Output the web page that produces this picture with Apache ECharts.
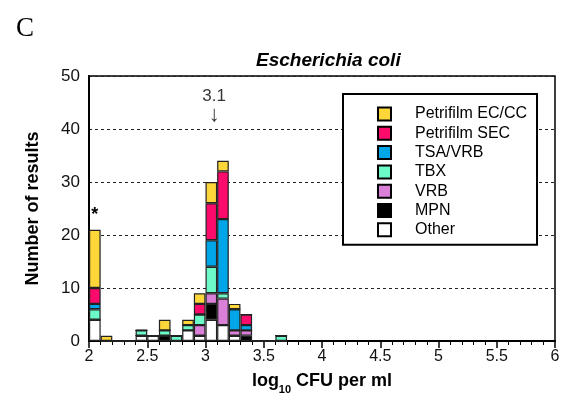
<!DOCTYPE html>
<html>
<head>
<meta charset="utf-8">
<script src="https://cdn.jsdelivr.net/npm/echarts@6/dist/echarts.min.js"></script>
<style>
  html, body { margin: 0; padding: 0; background: #fff; }
  #chart { width: 567px; height: 403px; }
</style>
</head>
<body>
<div id="chart"></div>
<script>
// Histogram bins of width 0.1 log10 CFU per ml (bin start values)
const bins = ['2.0','2.1','2.2','2.3','2.4','2.5','2.6','2.7','2.8','2.9',
              '3.0','3.1','3.2','3.3','3.4','3.5','3.6','3.7','3.8','3.9',
              '4.0','4.1','4.2','4.3','4.4','4.5','4.6','4.7','4.8','4.9',
              '5.0','5.1','5.2','5.3','5.4','5.5','5.6','5.7','5.8','5.9'];

// Number of results per bin, by method (bins 2.0 .. 3.6)
const other     = [4, 0, 0, 0, 1, 1, 0, 0, 2, 1, 4, 3, 1, 0, 0, 0, 0];
const mpn       = [0, 0, 0, 0, 0, 0, 1, 0, 0, 0, 3, 0, 0, 1, 0, 0, 0];
const vrb       = [0, 0, 0, 0, 0, 0, 0, 0, 0, 2, 2, 5, 1, 1, 0, 0, 0];
const tbx       = [2, 0, 0, 0, 1, 0, 1, 1, 1, 2, 5, 1, 0, 0, 0, 0, 1];
const tsaVrb    = [1, 0, 0, 0, 0, 0, 0, 0, 0, 0, 5, 14, 4, 1, 0, 0, 0];
const petriSec  = [3, 0, 0, 0, 0, 0, 0, 0, 0, 2, 7, 9, 0, 2, 0, 0, 0];
const petriEcCc = [11, 1, 0, 0, 0, 0, 2, 0, 1, 2, 4, 2, 1, 0, 0, 0, 0];

// Axis settings
const xTickLabels = ['2', '2.5', '3', '3.5', '4', '4.5', '5', '5.5', '6'];
const yTicks = [0, 10, 20, 30, 40, 50];

// Consensus value annotation
const consensus = 3.1;

const FONT = "'Liberation Sans', Arial, Helvetica, sans-serif";

const methods = [
  { name: 'Other',            data: other,     color: '#ffffff' },
  { name: 'MPN',              data: mpn,       color: '#000000' },
  { name: 'VRB',              data: vrb,       color: '#da80d8' },
  { name: 'TBX',              data: tbx,       color: '#6cfbc8' },
  { name: 'TSA/VRB',          data: tsaVrb,    color: '#00a6e8' },
  { name: 'Petrifilm SEC',    data: petriSec,  color: '#fc0a6c' },
  { name: 'Petrifilm EC/CC',  data: petriEcCc, color: '#fdd63a' }
];

const barSeries = methods.map((m, idx) => ({
  name: m.name,
  type: 'bar',
  stack: 'methods',
  xAxisIndex: 0,
  yAxisIndex: 0,
  barCategoryGap: '0%',
  barGap: '0%',
  data: m.data.map((v, i) => {
    // asterisk above the tallest low-end bin
    if (idx === methods.length - 1 && i === 0) {
      return {
        value: v,
        label: {
          show: true, position: 'top', formatter: '*', distance: 6,
          fontFamily: FONT, fontSize: 18, fontWeight: 'bold', color: '#000'
        }
      };
    }
    return v;
  }),
  itemStyle: { color: m.color, borderColor: '#222', borderWidth: 1.2 },
  emphasis: { disabled: true },
  animation: false
}));

const chart = echarts.init(document.getElementById('chart'), null, { renderer: 'canvas' });

chart.setOption({
  backgroundColor: '#fff',
  animation: false,
  title: [
    {
      text: 'C', left: 11, top: 10,
      textStyle: { fontFamily: "'Liberation Serif', 'Times New Roman', serif", fontSize: 27, fontWeight: 'normal', color: '#000' }
    },
    {
      text: 'Escherichia coli', left: 251, top: 46,
      textStyle: { fontFamily: FONT, fontSize: 19, fontWeight: 'bold', fontStyle: 'italic', color: '#000' }
    }
  ],
  grid: {
    left: 89, right: 12, top: 76, bottom: 62,
    show: true, borderColor: '#000', borderWidth: 1.5, backgroundColor: 'transparent'
  },
  legend: {
    orient: 'vertical',
    left: 343, top: 94,
    data: ['Petrifilm EC/CC', 'Petrifilm SEC', 'TSA/VRB', 'TBX', 'VRB', 'MPN', 'Other'],
    icon: 'rect',
    itemWidth: 13, itemHeight: 13,
    itemGap: 3.3,
    padding: [12, 10, 7, 34],
    backgroundColor: '#fff',
    borderColor: '#000', borderWidth: 2,
    itemStyle: { borderColor: '#000', borderWidth: 2 },
    textStyle: { fontFamily: FONT, fontSize: 16, color: '#000', padding: [0, 0, 0, 19], lineHeight: 14 },
    selectedMode: false
  },
  xAxis: [
    {
      type: 'category',
      data: bins,
      boundaryGap: true,
      position: 'bottom',
      axisLine: { show: false },
      axisTick: { show: false },
      axisLabel: { show: false },
      splitLine: { show: false }
    },
    {
      type: 'value',
      min: 2, max: 6, interval: 0.5,
      position: 'bottom',
      name: '{b|log}{s|10}{b| CFU per ml}',
      nameLocation: 'middle',
      nameGap: 31,
      nameTextStyle: {
        rich: {
          b: { fontFamily: FONT, fontSize: 18, fontWeight: 'bold', color: '#000', verticalAlign: 'top', lineHeight: 22 },
          s: { fontFamily: FONT, fontSize: 11, fontWeight: 'bold', color: '#000', padding: [13, 0, 0, 0], lineHeight: 22 }
        }
      },
      axisLine: { show: true, lineStyle: { color: '#000', width: 2 } },
      axisTick: { show: true, length: 7, lineStyle: { color: '#000', width: 1.5 } },
      minorTick: { show: true, splitNumber: 5, length: 4, lineStyle: { color: '#000', width: 1 } },
      axisLabel: {
        margin: 8,
        fontFamily: FONT, fontSize: 16, color: '#111',
        formatter: (v) => {
          const s = xTickLabels.find(t => Math.abs(parseFloat(t) - v) < 1e-6);
          return s !== undefined ? s : '';
        }
      },
      splitLine: { show: false }
    }
  ],
  yAxis: {
    type: 'value',
    min: yTicks[0], max: yTicks[yTicks.length - 1], interval: 10,
    name: 'Number of results',
    nameLocation: 'middle',
    nameGap: 47,
    nameRotate: 90,
    nameTextStyle: { fontFamily: FONT, fontSize: 18, fontWeight: 'bold', color: '#000' },
    axisLine: { show: true, lineStyle: { color: '#000', width: 2 } },
    axisTick: { show: false },
    axisLabel: { margin: 9, fontFamily: FONT, fontSize: 17, color: '#111' },
    splitLine: { show: true, lineStyle: { color: '#222', type: [3, 3], width: 1 } }
  },
  series: barSeries.concat([
    {
      name: 'consensus',
      type: 'scatter',
      xAxisIndex: 1,
      yAxisIndex: 0,
      symbolSize: 0,
      silent: true,
      data: [[consensus, 40.5]],
      label: {
        show: true,
        position: 'top',
        distance: 0,
        offset: [-3, 0],
        formatter: '{a|' + consensus.toFixed(1) + '}\n{b|↓}',
        rich: {
          a: { fontFamily: FONT, fontSize: 17, color: '#000', lineHeight: 17, align: 'center' },
          b: { fontFamily: FONT, fontSize: 22, color: '#000', lineHeight: 22, align: 'center' }
        }
      }
    }
  ])
});
</script>
</body>
</html>
